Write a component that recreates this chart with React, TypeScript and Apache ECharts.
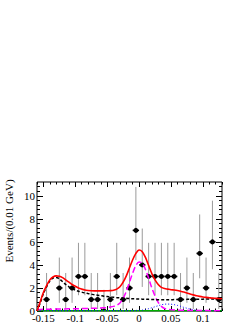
import React, { useEffect, useRef } from "react";
import * as echarts from "echarts";

// Binned data (bin width 0.01 GeV)
const dataX = [-0.145, -0.125, -0.115, -0.105, -0.095, -0.085, -0.075, -0.065, -0.055, -0.045, -0.035, -0.025, -0.015, -0.005, 0.005, 0.015, 0.025, 0.035, 0.045, 0.055, 0.065, 0.075, 0.085, 0.095, 0.105, 0.115, 0.125];
const dataY = [1, 2, 1, 2, 3, 3, 1, 1, 0, 1, 3, 1, 2, 7, 4, 3, 3, 3, 3, 3, 1, 2, 1, 5, 2, 6, 1];
const errLo = [0.17, 0.71, 0.17, 0.71, 1.37, 1.37, 0.17, 0.17, 0, 0.17, 1.37, 0.17, 0.71, 4.42, 2.09, 1.37, 1.37, 1.37, 1.37, 1.37, 0.17, 0.71, 0.17, 2.84, 0.71, 3.62, 0.17];
const errHi = [3.3, 4.64, 3.3, 4.64, 5.92, 5.92, 3.3, 3.3, 1.84, 3.3, 5.92, 3.3, 4.64, 10.77, 7.16, 5.92, 5.92, 5.92, 5.92, 5.92, 3.3, 4.64, 3.3, 8.38, 4.64, 9.58, 3.3];
const binHalfWidth = 0.005;

// Fit curves
const curveX = [-0.16, -0.155, -0.15, -0.145, -0.14, -0.135, -0.13, -0.125, -0.12, -0.115, -0.11, -0.105, -0.1, -0.095, -0.09, -0.085, -0.08, -0.075, -0.07, -0.065, -0.06, -0.055, -0.05, -0.045, -0.04, -0.035, -0.03, -0.025, -0.02, -0.015, -0.01, -0.005, 0, 0.005, 0.01, 0.015, 0.02, 0.025, 0.03, 0.035, 0.04, 0.045, 0.05, 0.055, 0.06, 0.065, 0.07, 0.075, 0.08, 0.085, 0.09, 0.095, 0.1, 0.105, 0.11, 0.115, 0.12, 0.125, 0.13];
const totalFit = [0.0, 0.8, 1.6, 2.2, 2.7, 2.95, 3.05, 3.02, 2.9, 2.7, 2.5, 2.3, 2.15, 2.0, 1.9, 1.82, 1.78, 1.76, 1.75, 1.75, 1.75, 1.75, 1.76, 1.77, 1.8, 1.9, 2.1, 2.5, 3.05, 3.75, 4.45, 5.0, 5.3, 5.15, 4.65, 3.95, 3.25, 2.7, 2.3, 2.05, 1.95, 1.9, 1.85, 1.82, 1.78, 1.72, 1.65, 1.57, 1.48, 1.4, 1.33, 1.27, 1.22, 1.18, 1.15, 1.12, 1.1, 1.08, 1.07];
const background = [0, 0.7, 1.5, 2.1, 2.6, 2.85, 2.9, 2.8, 2.55, 2.3, 2.1, 1.95, 1.82, 1.72, 1.64, 1.57, 1.51, 1.46, 1.41, 1.37, 1.33, 1.29, 1.26, 1.22, 1.19, 1.16, 1.14, 1.12, 1.1, 1.08, 1.06, 1.05, 1.04, 1.03, 1.02, 1.01, 1.0, 0.99, 0.98, 0.98, 0.98, 0.98, 0.98, 0.99, 0.99, 1.0, 1.0, 1.01, 1.01, 1.02, 1.02, 1.03, 1.03, 1.04, 1.04, 1.04, 1.05, 1.05, 1.05];
const signal = [0.1, 0.13, 0.15, 0.15, 0.16, 0.16, 0.17, 0.17, 0.18, 0.18, 0.19, 0.19, 0.2, 0.2, 0.21, 0.21, 0.22, 0.23, 0.24, 0.25, 0.26, 0.28, 0.3, 0.34, 0.4, 0.5, 0.7, 1.1, 1.7, 2.5, 3.3, 3.95, 4.25, 4.15, 3.6, 2.85, 2.0, 1.3, 0.75, 0.4, 0.22, 0.14, 0.1, 0.08, 0.07, 0.06, 0.06, 0.05, 0.05, 0.05, 0.04, 0.04, 0.04, 0.04, 0.03, 0.03, 0.03, 0.03, 0.03];
const peaking = [0.03, 0.03, 0.03, 0.03, 0.03, 0.03, 0.03, 0.03, 0.03, 0.03, 0.03, 0.03, 0.03, 0.03, 0.03, 0.03, 0.03, 0.03, 0.03, 0.03, 0.03, 0.03, 0.03, 0.03, 0.03, 0.03, 0.03, 0.03, 0.03, 0.03, 0.03, 0.05, 0.06, 0.08, 0.13, 0.2, 0.28, 0.37, 0.46, 0.54, 0.59, 0.6, 0.59, 0.55, 0.49, 0.41, 0.32, 0.24, 0.17, 0.11, 0.07, 0.04, 0.03, 0.02, 0.02, 0.02, 0.02, 0.02, 0.02];
const flatX = [-0.16, 0.13];
const flat = [0.02, 0.02];

// Axes
const xMin = -0.16;
const xMax = 0.13;
const xTickValues = [-0.15, -0.1, -0.05, 0, 0.05, 0.1];
const xTickLabels = ["-0.15", "-0.1", "-0.05", "0", "0.05", "0.1"];
const xMinorTicks = [-0.16, -0.15, -0.14, -0.13, -0.12, -0.11, -0.1, -0.09, -0.08, -0.07, -0.06, -0.05, -0.04, -0.03, -0.02, -0.01, 0, 0.01, 0.02, 0.03, 0.04, 0.05, 0.06, 0.07, 0.08, 0.09, 0.1, 0.11, 0.12, 0.13];
const yMin = 0;
const yMax = 11.2;
const yTickValues = [0, 2, 4, 6, 8, 10];
const yTickLabels = ["0", "2", "4", "6", "8", "10"];
const yMinorTicks = [0.4, 0.8, 1.2, 1.6, 2.4, 2.8, 3.2, 3.6, 4.4, 4.8, 5.2, 5.6, 6.4, 6.8, 7.2, 7.6, 8.4, 8.8, 9.2, 9.6, 10.4, 10.8];
const yTitle = "Events/(0.01 GeV)";

const FONT = "Liberation Serif";

function pairs(xs: number[], ys: number[]) {
  return xs.map((x, i) => [x, ys[i]]);
}

export default function App() {
  const ref = useRef<HTMLDivElement>(null);
  useEffect(() => {
    if (!ref.current) return;
    document.body.style.margin = "0";
    const chart = echarts.init(ref.current, null, { renderer: "svg" });
    const tickStyle = { color: "#000", width: 1 };
    const xBase = {
      type: "value",
      min: xMin,
      max: xMax,
      axisLine: { show: false, onZero: false },
      splitLine: { show: false },
    };
    const yBase = {
      type: "value",
      min: yMin,
      max: yMax,
      axisLine: { show: false, onZero: false },
      splitLine: { show: false },
    };
    const fmt = (values: number[], labels: string[]) => (v: number) => {
      const i = values.findIndex((t) => Math.abs(t - v) < 1e-9);
      return i >= 0 ? labels[i] : "";
    };
    const option: any = {
      animation: false,
      backgroundColor: "#fff",
      grid: {
        left: 37,
        right: 27,
        top: 182,
        bottom: 12,
        show: true,
        borderColor: "#000",
        borderWidth: 1,
      },
      xAxis: [
        {
          ...xBase,
          position: "bottom",
          axisTick: { show: true, inside: true, length: 5, lineStyle: tickStyle, customValues: xTickValues },
          axisLabel: {
            show: true,
            customValues: xTickValues,
            margin: 1,
            fontFamily: FONT,
            fontSize: 11,
            color: "#000",
            formatter: fmt(xTickValues, xTickLabels),
          },
        },
        {
          ...xBase,
          position: "bottom",
          axisTick: { show: true, inside: true, length: 2.5, lineStyle: tickStyle, customValues: xMinorTicks },
          axisLabel: { show: false },
        },
        {
          ...xBase,
          position: "top",
          axisTick: { show: true, inside: true, length: 5, lineStyle: tickStyle, customValues: xTickValues },
          axisLabel: { show: false },
        },
        {
          ...xBase,
          position: "top",
          axisTick: { show: true, inside: true, length: 2.5, lineStyle: tickStyle, customValues: xMinorTicks },
          axisLabel: { show: false },
        },
      ],
      yAxis: [
        {
          ...yBase,
          position: "left",
          axisTick: { show: true, inside: true, length: 6, lineStyle: tickStyle, customValues: yTickValues },
          axisLabel: {
            show: true,
            customValues: yTickValues,
            margin: 2,
            fontFamily: FONT,
            fontSize: 11,
            color: "#000",
            formatter: fmt(yTickValues, yTickLabels),
          },
        },
        {
          ...yBase,
          position: "left",
          axisTick: { show: true, inside: true, length: 3, lineStyle: tickStyle, customValues: yMinorTicks },
          axisLabel: { show: false },
        },
        {
          ...yBase,
          position: "right",
          axisTick: { show: true, inside: true, length: 6, lineStyle: tickStyle, customValues: yTickValues },
          axisLabel: { show: false },
        },
        {
          ...yBase,
          position: "right",
          axisTick: { show: true, inside: true, length: 3, lineStyle: tickStyle, customValues: yMinorTicks },
          axisLabel: { show: false },
        },
      ],
      graphic: [
        {
          type: "text",
          x: 9,
          y: 221,
          rotation: Math.PI / 2,
          style: {
            text: yTitle,
            fontFamily: FONT,
            fontSize: 11,
            fill: "#000",
            align: "center",
            verticalAlign: "middle",
          },
        },
      ],
      series: [
        {
          type: "custom",
          xAxisIndex: 0,
          yAxisIndex: 0,
          z: 2,
          clip: true,
          encode: { x: 0, y: 1 },
          data: dataX.map((x, i) => [x, dataY[i], errLo[i], errHi[i]]),
          renderItem: (params: any, api: any) => {
            const x = api.value(0);
            const y = api.value(1);
            const lo = api.value(2);
            const hi = api.value(3);
            const top = api.coord([x, hi]);
            const bot = api.coord([x, lo]);
            const l = api.coord([x - binHalfWidth, y]);
            const r = api.coord([x + binHalfWidth, y]);
            const c = api.coord([x, y]);
            return {
              type: "group",
              children: [
                { type: "line", shape: { x1: top[0], y1: top[1], x2: bot[0], y2: bot[1] }, style: { stroke: "#9a9a9a", lineWidth: 1 } },
                { type: "line", shape: { x1: l[0], y1: l[1], x2: r[0], y2: r[1] }, style: { stroke: "#000", lineWidth: 1.5 } },
                { type: "circle", shape: { cx: c[0], cy: c[1], r: 2.5 }, style: { fill: "#000" } },
              ],
            };
          },
        },
        {
          type: "line",
          xAxisIndex: 0,
          yAxisIndex: 0,
          data: pairs(flatX, flat),
          showSymbol: false,
          z: 3,
          lineStyle: { color: "#00b000", width: 1.5 },
        },
        {
          type: "line",
          xAxisIndex: 0,
          yAxisIndex: 0,
          data: pairs(curveX, peaking),
          showSymbol: false,
          smooth: 0.3,
          z: 3,
          lineStyle: { color: "#0000ff", width: 1, type: [1, 2] },
        },
        {
          type: "line",
          xAxisIndex: 0,
          yAxisIndex: 0,
          data: pairs(curveX, signal),
          showSymbol: false,
          smooth: 0.3,
          z: 3,
          lineStyle: { color: "#ff00ff", width: 1.5, type: [6, 3] },
        },
        {
          type: "line",
          xAxisIndex: 0,
          yAxisIndex: 0,
          data: pairs(curveX, background),
          showSymbol: false,
          smooth: 0.3,
          z: 4,
          lineStyle: { color: "#000", width: 1.5, type: [3, 2] },
        },
        {
          type: "line",
          xAxisIndex: 0,
          yAxisIndex: 0,
          data: pairs(curveX, totalFit),
          showSymbol: false,
          smooth: 0.3,
          z: 5,
          lineStyle: { color: "#ff0000", width: 1.6 },
        },
      ],
    };
    chart.setOption(option);
    return () => chart.dispose();
  }, []);
  return <div ref={ref} style={{ width: 249, height: 323, background: "#fff" }} />;
}
